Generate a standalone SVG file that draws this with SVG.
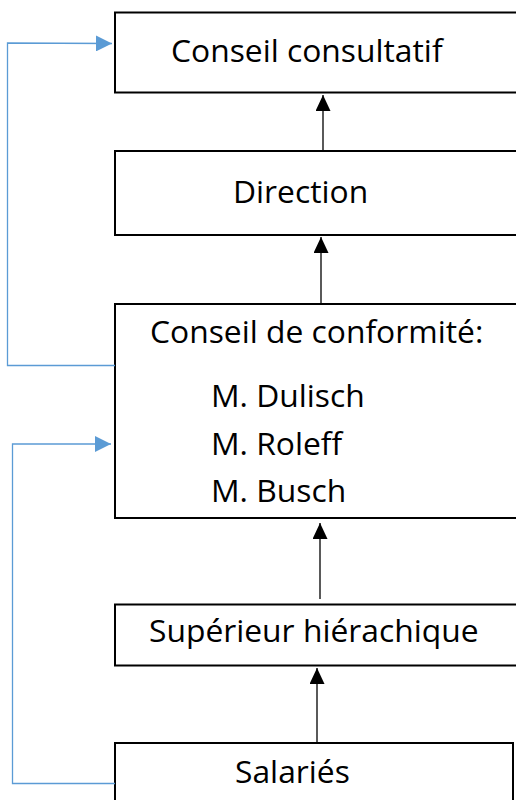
<svg xmlns="http://www.w3.org/2000/svg" width="516" height="800" viewBox="0 0 516 800">
<defs>
<style>
.box{fill:#fff;stroke:#000;stroke-width:2}
.t{font-family:"Open Sans","Noto Sans",sans-serif;font-size:31.8px;fill:#000}
.k{stroke:#000;stroke-width:1.3;fill:none}
.b{stroke:#5B9BD5;stroke-width:1.3;fill:none}
</style>
<marker id="ak" markerWidth="16" markerHeight="15" refX="16" refY="7.5" orient="auto" markerUnits="userSpaceOnUse"><path d="M0,0 L16,7.5 L0,15 Z" fill="#000"/></marker>
<marker id="ab" markerWidth="16" markerHeight="16" refX="16" refY="8" orient="auto" markerUnits="userSpaceOnUse"><path d="M0,0 L16,8 L0,16 Z" fill="#5B9BD5"/></marker>
</defs>
<g id="conseil-consultatif"><rect class="box" x="115" y="12.5" width="410" height="80"/><text class="t" x="171" y="62">Conseil consultatif</text></g>
<g id="direction"><rect class="box" x="115" y="151" width="410" height="84"/><text class="t" x="233" y="203">Direction</text></g>
<g id="conseil-conformite"><rect class="box" x="115" y="304" width="410" height="214"/><text class="t" x="150" y="343">Conseil de conformité:</text><text class="t" x="211" y="406.5">M. Dulisch</text><text class="t" x="211" y="455">M. Roleff</text><text class="t" x="211" y="501.5">M. Busch</text></g>
<g id="superieur"><rect class="box" x="115" y="604.5" width="410" height="61"/><text class="t" x="149" y="641.5">Supérieur hiérachique</text></g>
<g id="salaries"><rect class="box" x="115" y="743" width="398" height="70"/><text class="t" x="235" y="783">Salariés</text></g>
<g id="connectors">
<line class="k" x1="323" y1="151" x2="323" y2="95" marker-end="url(#ak)"/>
<line class="k" x1="321" y1="304" x2="321" y2="237" marker-end="url(#ak)"/>
<line class="k" x1="320" y1="599" x2="320" y2="523" marker-end="url(#ak)"/>
<line class="k" x1="317" y1="742" x2="317" y2="668" marker-end="url(#ak)"/>
<polyline class="b" points="115,365.5 7.5,365.5 7.5,43 112,43.5" marker-end="url(#ab)"/>
<polyline class="b" points="115,783.5 12.5,783.5 12.5,444 111,444" marker-end="url(#ab)"/>
</g>
</svg>
